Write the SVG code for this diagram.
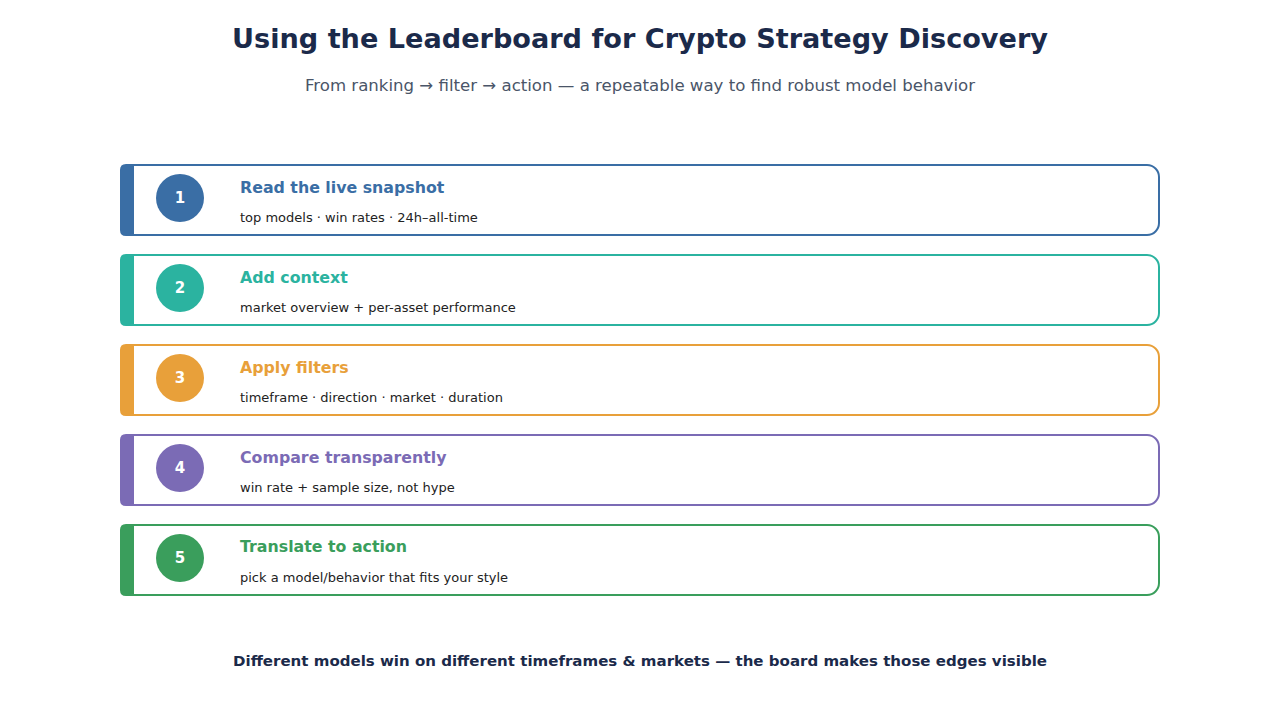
<svg xmlns="http://www.w3.org/2000/svg" width="1280" height="720" viewBox="0 0 1280 720">
<style>
.t{font-family:"DejaVu Sans",sans-serif}
.title{font-size:26px;font-weight:bold;fill:#1b2a4a}
.sub{font-size:16px;fill:#4a5568}
.foot{font-size:14px;font-weight:bold;fill:#1b2a4a}
.card{fill:#fff;stroke-width:2}
.num{font-size:15px;font-weight:bold;fill:#fff}
.ct{font-size:15.8px;font-weight:bold}
.cd{font-size:13px;fill:#222}
</style>
<rect width="1280" height="720" fill="#fff"/>
<text class="t title" x="640" y="48" text-anchor="middle" textLength="816" lengthAdjust="spacingAndGlyphs">Using the Leaderboard for Crypto Strategy Discovery</text>
<text class="t sub" x="640" y="91" text-anchor="middle" textLength="670" lengthAdjust="spacingAndGlyphs">From ranking → filter → action — a repeatable way to find robust model behavior</text>

<g id="step1">
<rect class="card" x="121" y="165" width="1038" height="70" rx="12" stroke="#3a6ea5"/>
<path d="M126 164 H134 V236 H126 Q120 236 120 230 V170 Q120 164 126 164 Z" fill="#3a6ea5"/>
<circle cx="180" cy="198" r="24" fill="#3a6ea5"/>
<text class="t num" x="180" y="203" text-anchor="middle">1</text>
<text class="t ct" x="240" y="193" fill="#3a6ea5">Read the live snapshot</text>
<text class="t cd" x="240" y="222">top models · win rates · 24h–all-time</text>
</g>
<g id="step2">
<rect class="card" x="121" y="255" width="1038" height="70" rx="12" stroke="#2bb3a0"/>
<path d="M126 254 H134 V326 H126 Q120 326 120 320 V260 Q120 254 126 254 Z" fill="#2bb3a0"/>
<circle cx="180" cy="288" r="24" fill="#2bb3a0"/>
<text class="t num" x="180" y="293" text-anchor="middle">2</text>
<text class="t ct" x="240" y="283" fill="#2bb3a0">Add context</text>
<text class="t cd" x="240" y="312">market overview + per-asset performance</text>
</g>
<g id="step3">
<rect class="card" x="121" y="345" width="1038" height="70" rx="12" stroke="#e8a03a"/>
<path d="M126 344 H134 V416 H126 Q120 416 120 410 V350 Q120 344 126 344 Z" fill="#e8a03a"/>
<circle cx="180" cy="378" r="24" fill="#e8a03a"/>
<text class="t num" x="180" y="383" text-anchor="middle">3</text>
<text class="t ct" x="240" y="373" fill="#e8a03a">Apply filters</text>
<text class="t cd" x="240" y="402">timeframe · direction · market · duration</text>
</g>
<g id="step4">
<rect class="card" x="121" y="435" width="1038" height="70" rx="12" stroke="#7b6bb5"/>
<path d="M126 434 H134 V506 H126 Q120 506 120 500 V440 Q120 434 126 434 Z" fill="#7b6bb5"/>
<circle cx="180" cy="468" r="24" fill="#7b6bb5"/>
<text class="t num" x="180" y="473" text-anchor="middle">4</text>
<text class="t ct" x="240" y="463" fill="#7b6bb5">Compare transparently</text>
<text class="t cd" x="240" y="492">win rate + sample size, not hype</text>
</g>
<g id="step5">
<rect class="card" x="121" y="525" width="1038" height="70" rx="12" stroke="#3a9e5c"/>
<path d="M126 524 H134 V596 H126 Q120 596 120 590 V530 Q120 524 126 524 Z" fill="#3a9e5c"/>
<circle cx="180" cy="558" r="24" fill="#3a9e5c"/>
<text class="t num" x="180" y="563" text-anchor="middle">5</text>
<text class="t ct" x="240" y="552" fill="#3a9e5c">Translate to action</text>
<text class="t cd" x="240" y="582">pick a model/behavior that fits your style</text>
</g>
<g id="connectors"></g>
<text class="t foot" x="640" y="666" text-anchor="middle" textLength="814" lengthAdjust="spacingAndGlyphs">Different models win on different timeframes &amp; markets — the board makes those edges visible</text>
</svg>
